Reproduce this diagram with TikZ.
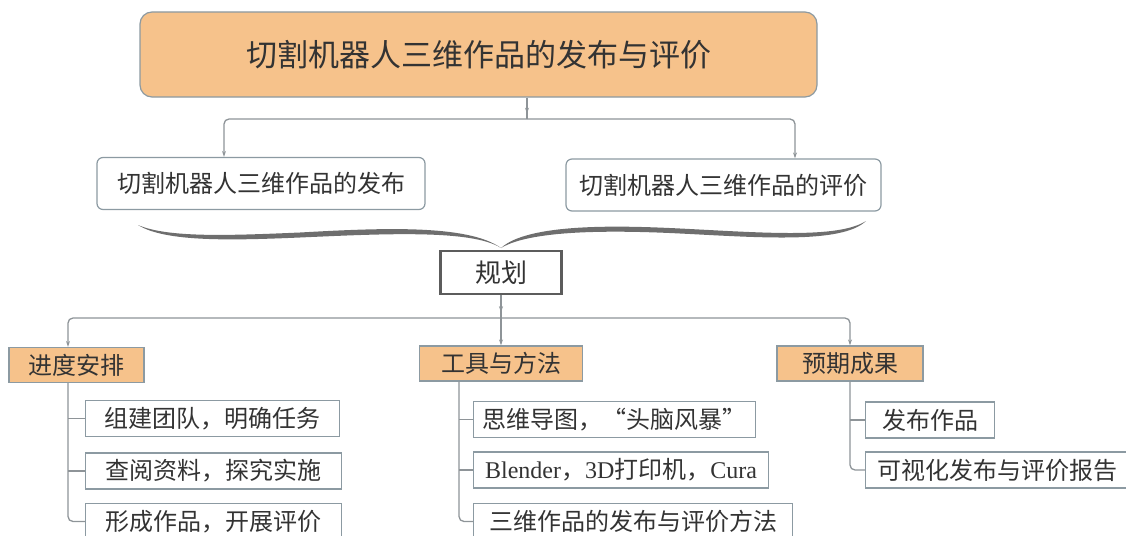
\documentclass[tikz,border=0pt]{standalone}
\usepackage{fontspec}
\setmainfont{Liberation Serif}
\newfontfamily\cjk{Noto Sans CJK SC}
\usetikzlibrary{arrows.meta,decorations.markings}
\definecolor{orangefill}{HTML}{F6C28B}
\definecolor{boxline}{HTML}{8C9AA2}
\definecolor{connline}{HTML}{8E9498}
\definecolor{txt}{HTML}{333333}
\definecolor{planline}{HTML}{5C5C5C}
\definecolor{bracecol}{HTML}{6E6E6E}
\begin{document}
\begin{tikzpicture}[x=1pt,y=-1pt,
  every node/.style={font=\cjk\fontsize{24}{28}\selectfont, text=txt, inner sep=0pt},
  titlebox/.style={draw=boxline, line width=1.2pt, fill=orangefill, rounded corners=12pt, minimum width=677pt, minimum height=85pt, font=\cjk\fontsize{31}{36}\selectfont},
  subbox/.style={draw=boxline, line width=1.2pt, fill=white, rounded corners=6pt, minimum height=52pt},
  planbox/.style={draw=planline, line width=2.2pt, fill=white, minimum width=121pt, minimum height=43pt, font=\cjk\fontsize{26}{30}\selectfont},
  catbox/.style={draw=boxline, fill=orangefill, line width=1.2pt, minimum height=35pt},
  leafbox/.style={draw=boxline, line width=1.2pt, fill=white, minimum height=36pt, anchor=west},
  conn/.style={draw=connline, line width=1.3pt, rounded corners=5pt},
  tipend/.style={-{Stealth[length=6pt,width=4pt]}},
  midtip/.style={postaction={decorate}, decoration={markings, mark=at position 0.75 with {\arrow{Stealth[length=6pt,width=4pt]}}}},
]
\useasboundingbox (0,0) rectangle (1126,535);
\clip (0,0) rectangle (1126,535);

% nodes
\node[titlebox] (title) at (478.5,54.5) {切割机器人三维作品的发布与评价};
\node[subbox, minimum width=328pt] (pub) at (261,183.5) {切割机器人三维作品的发布};
\node[subbox, minimum width=315pt] (eva) at (723.5,185) {切割机器人三维作品的评价};
\node[planbox] (plan) at (501,272.5) {规划};
\node[catbox, minimum width=135pt] (sched) at (76.5,365) {进度安排};
\node[catbox, minimum width=163pt] (tools) at (501,363.5) {工具与方法};
\node[catbox, minimum width=146pt] (exp) at (850,363.5) {预期成果};

\node[leafbox, minimum width=254pt] (s1) at (85,418.5) {组建团队，明确任务};
\node[leafbox, minimum width=256pt] (s2) at (85,471) {查阅资料，探究实施};
\node[leafbox, minimum width=256pt] (s3) at (85,521.5) {形成作品，开展评价};
\node[leafbox, minimum width=282pt] (t1) at (473,419.5) {思维导图，“头脑风暴”};
\node[leafbox, minimum width=295pt] (t2) at (473,470) {\rmfamily Blender{\cjk ，}3D{\cjk 打印机，}Cura};
\node[leafbox, minimum width=319pt] (t3) at (473,521.5) {三维作品的发布与评价方法};
\node[leafbox, minimum width=129pt] (e1) at (865,420) {发布作品};
\node[leafbox, minimum width=264pt] (e2) at (865,470) {可视化发布与评价报告};

% helper coordinates
\coordinate (xA) at (527,0);
\coordinate (xP) at (224,0);
\coordinate (xE) at (795,0);
\coordinate (busA) at (0,119);
\coordinate (xS) at (68,0);
\coordinate (xT) at (459,0);
\coordinate (busB) at (0,318);

% top connectors
\draw[conn, midtip] (title.south -| xA) -- (busA -| xA);
\draw[conn, tipend] (busA -| xA) -| (pub.north -| xP);
\draw[conn, tipend] (busA -| xA) -| (eva.north -| xE);

% brace
\fill[bracecol] (138,225) .. controls (165,242) and (230,240.5) .. (300,237.5)
  .. controls (380,234) and (472,229) .. (501,248)
  .. controls (468,224) and (380,228) .. (300,232.5)
  .. controls (230,235.5) and (168,238) .. (138,225) -- cycle;
\fill[bracecol] (501,248) .. controls (532,229) and (620,230.5) .. (680,233.5)
  .. controls (760,237.5) and (842,244) .. (866,221)
  .. controls (838,239) and (760,232.5) .. (680,228.5)
  .. controls (620,225.5) and (528,223) .. (501,248) -- cycle;

% plan connectors
\draw[conn, midtip] (plan.south) -- (busB -| plan.south);
\draw[conn, tipend] (busB -| plan.south) -| (sched.north -| xS);
\draw[conn, tipend] (busB -| plan.south) -- (tools.north);
\draw[conn, tipend] (busB -| plan.south) -| (exp.north);

% leaf connectors
\draw[conn] (sched.south -| xS) |- (s3.west);
\draw[conn] (s1.west -| xS) -- (s1.west);
\draw[conn] (s2.west -| xS) -- (s2.west);
\draw[conn] (tools.south -| xT) |- (t3.west);
\draw[conn] (t1.west -| xT) -- (t1.west);
\draw[conn] (t2.west -| xT) -- (t2.west);
\draw[conn] (exp.south) |- (e2.west);
\draw[conn] (e1.west -| exp.south) -- (e1.west);
\end{tikzpicture}
\end{document}
